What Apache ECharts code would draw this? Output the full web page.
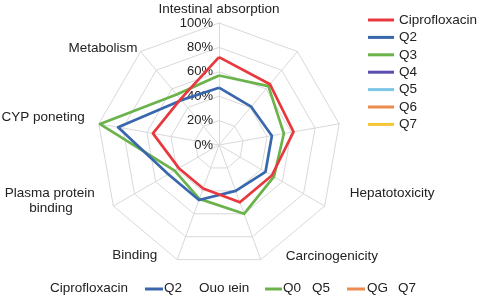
<!DOCTYPE html>
<html><head><meta charset="utf-8">
<script src="https://cdn.jsdelivr.net/npm/echarts@6/dist/echarts.min.js"></script>
<style>html,body{margin:0;padding:0;background:#fff}#c{width:480px;height:298px}</style>
</head><body><div id="c"></div>
<script>
// ---- data ----
const indicatorNames = ['Intestinal absorption', 'Metabolism', 'CYP poneting', 'Plasma protein\nbinding', 'Binding', 'Carcinogenicity', 'Hepatotoxicity', '', ''];
const seriesNames = ['Ciprofloxacin', 'Q2', 'Q3', 'Q4', 'Q5', 'Q6', 'Q7'];
const ciprofloxacin = [72, 49, 55, 38, 38, 50, 50, 62, 65];
const q2 = [47, 48, 84, 48, 48, 40, 44, 44, 41];
const q3 = [57, 54, 99, 42, 47, 60, 52, 54, 63];
const q4 = [];
const q5 = [];
const q6 = [];
const q7 = [];
const tickLabels = ['0%', '20%', '40%', '60%', '80%', '100%'];
const bottomLegendTexts = ['Ciprofloxacin', 'Q2', 'Ouo \u03b9ein', 'Q0', 'Q5', 'QG', 'Q7'];

// ---- styling ----
const colors = ['#e8383d', '#3867ae', '#6ab24a', '#5a4fae', '#7cc6e6', '#ec8b4e', '#f5c634'];
const allValues = [ciprofloxacin, q2, q3, q4, q5, q6, q7];
const FONT = 'Liberation Sans, Arial, sans-serif';
const TXT = '#222';
const NAME_FS = 13.5;
// per-name placement: radial gap and label padding [top,right,bottom,left] per line
const nameGaps = [14, 0, 0, -11, 0, 0, 0, 0, 0];
const namePad = [
  [[0, 0, 0, 0]],
  [[0, 3, 7, 0]],
  [[0, 14, 14, 0]],
  [[0, 28, 0, 0], [0, 50, 0, 0]],
  [[0, 20, 9, 0]],
  [[0, 0, 7, 25]],
  [[0, 0, 26, 25]]
];
const rich = {};
namePad.forEach((lines, i) => lines.forEach((p, j) => {
  rich['n' + i + '_' + j] = {padding: p, fontSize: NAME_FS, fontFamily: FONT, color: TXT, lineHeight: 15};
}));

const chart = echarts.init(document.getElementById('c'), null, {renderer: 'canvas'});

const series = seriesNames.map((n, i) => ({
  type: 'radar',
  name: n,
  symbol: 'none',
  lineStyle: {width: 2.7, color: colors[i]},
  itemStyle: {color: colors[i]},
  z: 10 - i,
  data: allValues[i].length ? [{name: n, value: allValues[i]}] : []
}));

// bottom (garbled) legend row
const bottomX = [50, 164, 199, 283, 312, 367, 398];
const bottomIcons = [[145, 163, colors[1]], [265, 282, colors[2]], [347, 365, colors[5]]];
const graphics = [];
bottomLegendTexts.forEach((t, i) => {
  graphics.push({type: 'text', left: bottomX[i], top: 281,
    style: {text: t, fill: TXT, font: NAME_FS + 'px ' + FONT}});
});
bottomIcons.forEach(b => {
  graphics.push({type: 'rect', shape: {x: b[0], y: 287.5, width: b[1] - b[0], height: 3}, style: {fill: b[2]}});
});

chart.setOption({
  animation: false,
  backgroundColor: '#fff',
  textStyle: {fontFamily: FONT},
  legend: {
    orient: 'vertical', left: 368, top: 13, padding: 0,
    icon: 'rect', itemWidth: 26, itemHeight: 3, itemGap: 3.4,
    selectedMode: false,
    textStyle: {color: TXT, fontSize: NAME_FS, fontFamily: FONT, lineHeight: 14},
    data: seriesNames.map((n, i) => ({name: n, itemStyle: {color: colors[i]}}))
  },
  radar: {
    center: [219, 145],
    radius: 122,
    startAngle: 90,
    splitNumber: 5,
    shape: 'polygon',
    nameGap: 0,
    axisName: {
      color: TXT, fontSize: NAME_FS, fontFamily: FONT, verticalAlign: 'middle',
      rich: rich,
      formatter: (name) => {
        const i = indicatorNames.indexOf(name);
        if (!name || i < 0) return '';
        return name.split('\n').map((line, j) => '{n' + i + '_' + j + '|' + line + '}').join('\n');
      }
    },
    indicator: indicatorNames.map((n, i) => {
      const o = {name: n, min: 0, max: 100, nameGap: nameGaps[i], nameMoveOverlap: false};
      if (i === 0) o.axisLabel = {show: true};
      return o;
    }),
    splitLine: {lineStyle: {color: '#d9d9d9', width: 1}},
    splitArea: {show: false},
    axisLine: {lineStyle: {color: '#d9d9d9', width: 1}},
    axisTick: {show: false},
    axisLabel: {show: false, color: TXT, fontSize: 13, fontFamily: FONT, margin: 6,
      formatter: v => tickLabels[Math.round(v / 20)]}
  },
  graphic: graphics,
  series: series
});
</script></body></html>
